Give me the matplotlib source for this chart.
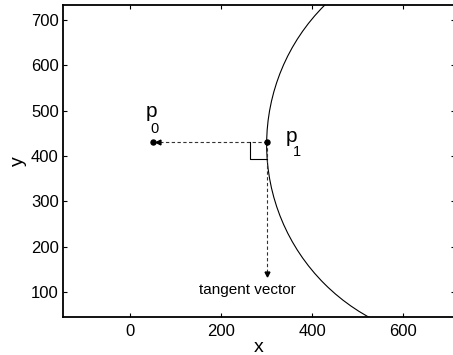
import matplotlib

matplotlib.use("Agg")
import matplotlib.pyplot as plt
from matplotlib.patches import Circle

plt.rcParams["font.family"] = ["Liberation Sans", "DejaVu Sans"]

# geometry (data units)
p0 = (50, 430)
p1 = (300, 430)
tangent_end = (300, 135)
circle_centre = (735, 425)
circle_radius = 435
corner = 37

xticks = [0, 200, 400, 600]
yticks = [100, 200, 300, 400, 500, 600, 700]

fig = plt.figure(figsize=(4.53, 3.55), dpi=100)
ax = fig.add_axes([0.139, 0.108, 0.866, 0.878])
ax.set_xlim(-147, 714)
ax.set_ylim(45.5, 733)

ax.add_patch(Circle(circle_centre, circle_radius, fill=False,
                    edgecolor="black", linewidth=0.8))

# normal (towards p0) and tangent, dashed with small heads
ax.plot([p1[0], p0[0] + 8], [p1[1], p0[1]], ls=(0, (3, 2.2)), color="#333333",
        lw=0.8)
ax.plot(p0[0] + 12, p0[1], marker="<", ms=3.5, color="black", ls="none")
ax.plot([p1[0], tangent_end[0]], [p1[1], tangent_end[1] + 6],
        ls=(0, (3, 2.2)), color="#333333", lw=0.8)
ax.plot(tangent_end[0], tangent_end[1] + 4, marker="v", ms=3.5,
        color="black", ls="none")

# right-angle marker
ax.plot([p1[0], p1[0] - corner, p1[0] - corner],
        [p1[1] - corner, p1[1] - corner, p1[1]], color="black", lw=0.8)

ax.plot([p0[0], p1[0]], [p0[1], p1[1]], "o", color="black", ms=3.6)

ax.text(35, 486, "p", fontsize=15, ha="left", va="baseline")
ax.text(44, 450, "0", fontsize=10.5, ha="left", va="baseline")
ax.text(342, 430, "p", fontsize=15, ha="left", va="baseline")
ax.text(357, 400, "1", fontsize=10.5, ha="left", va="baseline")
ax.text(257, 104, "tangent vector", fontsize=11, ha="center", va="center")

ax.set_xticks(xticks)
ax.set_yticks(yticks)
ax.tick_params(direction="in", length=3, width=0.8, labelsize=12,
               top=True, right=True)
ax.tick_params(axis="x", pad=5)
ax.tick_params(axis="y", pad=3)
for s in ax.spines.values():
    s.set_linewidth(1.3)

ax.set_xlabel("x", fontsize=14, labelpad=0)
ax.set_ylabel("y", fontsize=14, labelpad=3)

fig.savefig("out.png", dpi=100)
